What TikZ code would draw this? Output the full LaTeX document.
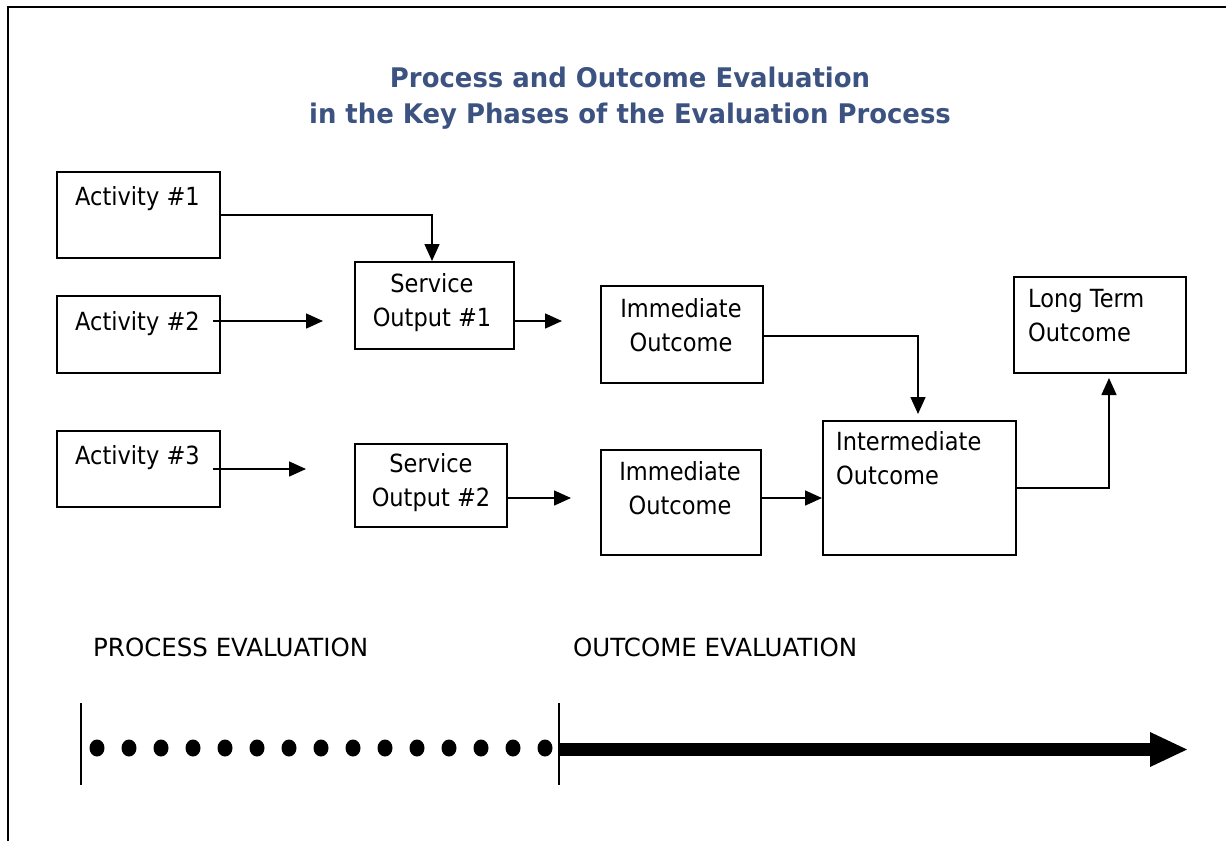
\documentclass[tikz,border=0pt]{standalone}
\usepackage{fontspec}
\setmainfont{DejaVu Sans}[FakeStretch=0.9]
\newfontfamily\titlefont{DejaVu Sans}[FakeStretch=0.96]
\newfontfamily\capsfont{DejaVu Sans}[FakeStretch=0.98]
\usetikzlibrary{arrows.meta}
\definecolor{titleblue}{RGB}{60,82,128}
\tikzset{
  box/.style={draw, line width=2pt, rectangle, inner sep=0pt, anchor=north west},
  txt/.style={inner sep=0pt, font=\fontsize{25}{34}\selectfont},
  mtxt/.style={txt, align=center, anchor=north},
  ltxt/.style={txt, align=left, anchor=north west},
  arr/.style={line width=1.5pt, -{Triangle[length=17pt,width=15pt]}},
  bar/.style={line width=1.4pt},
  dot/.style={fill=black}
}
\newcommand{\fstrut}{\rule{0pt}{20pt}}
\begin{document}
\begin{tikzpicture}[x=1pt,y=-1pt]
\useasboundingbox (0,0) rectangle (1226,841);
\draw[line width=2pt] (8,841) -- (8,7) -- (1226,7);
% title
\node[font=\titlefont\bfseries\fontsize{27}{36}\selectfont, text=titleblue, align=center, anchor=north, inner sep=0pt] (title) at (630,67) {\fstrut Process and Outcome Evaluation\\in the Key Phases of the Evaluation Process};
% boxes
\node[box, minimum width=163pt, minimum height=86pt] (a1) at (56,171) {};
\node[box, minimum width=163pt, minimum height=77pt] (a2) at (56,295) {};
\node[box, minimum width=163pt, minimum height=76pt] (a3) at (56,430) {};
\node[box, minimum width=159pt, minimum height=87pt] (s1) at (354,261) {};
\node[box, minimum width=152pt, minimum height=83pt] (s2) at (354,443) {};
\node[box, minimum width=162pt, minimum height=97pt] (im1) at (600,285) {};
\node[box, minimum width=160pt, minimum height=105pt] (im2) at (600,449) {};
\node[box, minimum width=193pt, minimum height=134pt] (mid) at (822,420) {};
\node[box, minimum width=172pt, minimum height=96pt] (lt) at (1013,276) {};
% texts
\node[ltxt] (ta1) at (75,185) {\fstrut Activity \#1};
\node[ltxt] (ta2) at (75,310) {\fstrut Activity \#2};
\node[ltxt] (ta3) at (75,444) {\fstrut Activity \#3};
\node[mtxt] (ts1) at (432,272) {\fstrut Service\\Output \#1};
\node[mtxt] (ts2) at (431,452) {\fstrut Service\\Output \#2};
\node[mtxt] (tim1) at (681,297) {\fstrut Immediate\\Outcome};
\node[mtxt] (tim2) at (680,460) {\fstrut Immediate\\Outcome};
\node[ltxt] (tmid) at (836,430) {\fstrut Intermediate\\Outcome};
\node[ltxt] (tlt) at (1028,287) {\fstrut Long Term\\Outcome};
\node[ltxt, font=\capsfont\fontsize{25}{34}\selectfont] (pe) at (93,636) {\fstrut PROCESS EVALUATION};
\node[ltxt, font=\capsfont\fontsize{25}{34}\selectfont] (oe) at (573,636) {\fstrut OUTCOME EVALUATION};
% connectors
\coordinate (a2s) at (213,321);
\coordinate (a2e) at (323,321);
\coordinate (s1s) at (513,321);
\coordinate (s1e) at (562,321);
\coordinate (a3s) at (213,469);
\coordinate (a3e) at (306,469);
\coordinate (s2s) at (506,498);
\coordinate (s2e) at (571,498);
\coordinate (im1e) at (918,414);
\coordinate (mide) at (1109,378);
\draw[arr] (a1.east) -| (s1.north -| 432,0);
\draw[arr] (a2s) -- (a2e);
\draw[arr] (s1s) -- (s1e);
\draw[arr] (a3s) -- (a3e);
\draw[arr] (s2s) -- (s2e);
\draw[arr] (im1.east |- 0,336) -| (im1e);
\draw[arr] (im2.east |- 0,498) -- (mid.west |- 0,498);
\draw[arr] (mid.east |- 0,488) -| (mide);
% timeline
\coordinate (b1t) at (81,703); \coordinate (b1b) at (81,785);
\coordinate (b2t) at (559,703); \coordinate (b2b) at (559,785);
\draw[bar] (b1t) -- (b1b);
\draw[bar] (b2t) -- (b2b);
\foreach \i in {0,...,14} {
  \fill[dot] (97+32*\i,748) ellipse [x radius=7.5pt, y radius=8.5pt];
}
\coordinate (sh1) at (560,749.5);
\coordinate (sh2) at (1151,749.5);
\draw[line width=13pt] (sh1) -- (sh2);
\fill (1150,732) -- (1187,749.5) -- (1150,767) -- cycle;
\end{tikzpicture}
\end{document}
